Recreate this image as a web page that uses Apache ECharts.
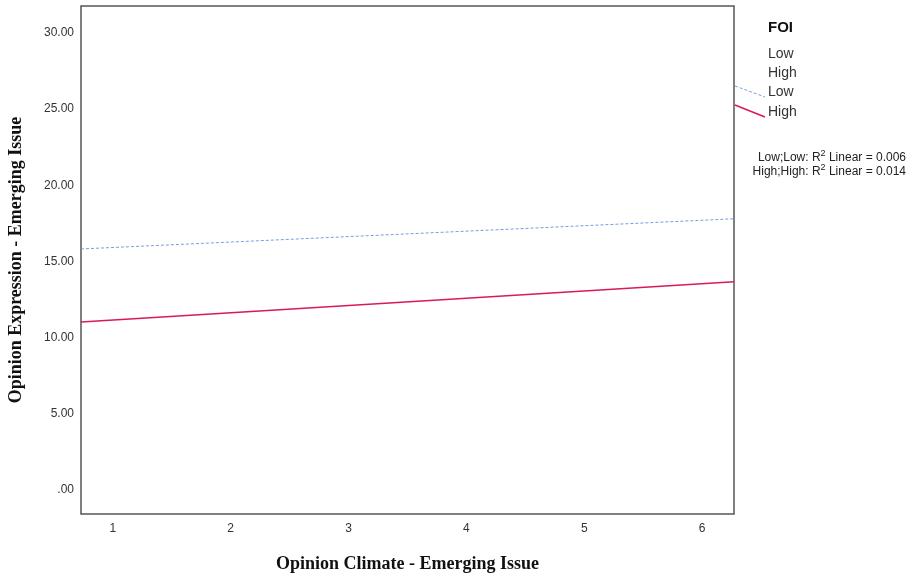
<!DOCTYPE html>
<html>
<head>
<meta charset="utf-8">
<script src="https://cdn.jsdelivr.net/npm/echarts@6/dist/echarts.min.js"></script>
<style>
  html, body { margin: 0; padding: 0; background: #fff; }
  #chart { width: 911px; height: 575px; }
</style>
</head>
<body>
<div id="chart"></div>
<script>
// fit lines at both ends of the x range
const xEnds = [0.73, 6.27];
const lowLow = [15.82, 17.8];
const highHigh = [11.03, 13.66];

const xTicks = [1, 2, 3, 4, 5, 6];
const yTicks = [0, 5, 10, 15, 20, 25, 30];

const legendTitle = "FOI";
const legendLabels = ["Low", "High", "Low", "High"];
const r2Labels = ["Low;Low: ", "High;High: "];
const r2Values = ["0.006", "0.014"];

const chart = echarts.init(document.getElementById("chart"));

function pairs(ys) {
  return xEnds.map((x, i) => [x, ys[i]]);
}

const legendTexts = legendLabels.map((t, i) => ({
  type: "text",
  left: 768,
  top: 47 + i * 19.3,
  style: { text: t, font: "14px Arial, 'Liberation Sans'", fill: "#333" },
}));

const r2Texts = r2Labels.map((t, i) => ({
  type: "text",
  right: 5,
  top: 149 + i * 14,
  style: {
    text: "{a|" + t + "R}{s|2}{a| Linear = " + r2Values[i] + "}",
    rich: {
      a: { font: "12px Arial, 'Liberation Sans'", fill: "#222", padding: [4, 0, 0, 0] },
      s: { font: "9px Arial, 'Liberation Sans'", fill: "#222", padding: [0, 0, 4, 0] },
    },
  },
}));

const titleFont = {
  fontFamily: "'Liberation Serif', 'Times New Roman', serif",
  fontWeight: "bold",
  fontSize: 18,
  color: "#111",
};

const option = {
  animation: false,
  grid: {
    left: 81,
    top: 6,
    right: 177,
    bottom: 61,
    outerBoundsMode: "none",
    containLabel: false,
    show: true,
    borderColor: "#555",
    borderWidth: 1.5,
  },
  xAxis: {
    type: "value",
    min: xEnds[0],
    max: xEnds[1],
    name: "Opinion Climate - Emerging Issue",
    nameLocation: "middle",
    nameGap: 41,
    nameTextStyle: titleFont,
    axisLine: { show: false },
    axisTick: { show: false },
    splitLine: { show: false },
    axisLabel: {
      customValues: xTicks,
      margin: 9,
      fontFamily: "Arial, 'Liberation Sans'",
      fontSize: 12,
      color: "#333",
    },
  },
  yAxis: {
    type: "value",
    min: -1.58,
    max: 31.77,
    name: "Opinion Expression - Emerging Issue",
    nameLocation: "middle",
    nameGap: 56,
    nameTextStyle: titleFont,
    axisLine: { show: false },
    axisTick: { show: false },
    splitLine: { show: false },
    axisLabel: {
      customValues: yTicks,
      margin: 7,
      fontFamily: "Arial, 'Liberation Sans'",
      fontSize: 12,
      color: "#333",
      formatter: (v) => (v === 0 ? ".00" : v.toFixed(2)),
    },
  },
  series: [
    {
      name: "Low;Low",
      type: "line",
      data: pairs(lowLow),
      symbol: "none",
      lineStyle: { color: "#7a9be0", width: 1, type: [3, 2] },
    },
    {
      name: "High;High",
      type: "line",
      data: pairs(highHigh),
      symbol: "none",
      lineStyle: { color: "#d81b55", width: 1.5 },
    },
  ],
  graphic: [
    {
      type: "text",
      left: 768,
      top: 20,
      style: { text: legendTitle, font: "bold 15px Arial, 'Liberation Sans'", fill: "#111" },
    },
    ...legendTexts,
    {
      type: "line",
      shape: { x1: 735, y1: 86, x2: 765, y2: 97 },
      style: { stroke: "#7a9be0", lineWidth: 1, lineDash: [3, 2] },
    },
    {
      type: "line",
      shape: { x1: 735, y1: 105, x2: 765, y2: 117 },
      style: { stroke: "#d81b55", lineWidth: 1.5 },
    },
    ...r2Texts,
  ],
};

chart.setOption(option);
</script>
</body>
</html>
